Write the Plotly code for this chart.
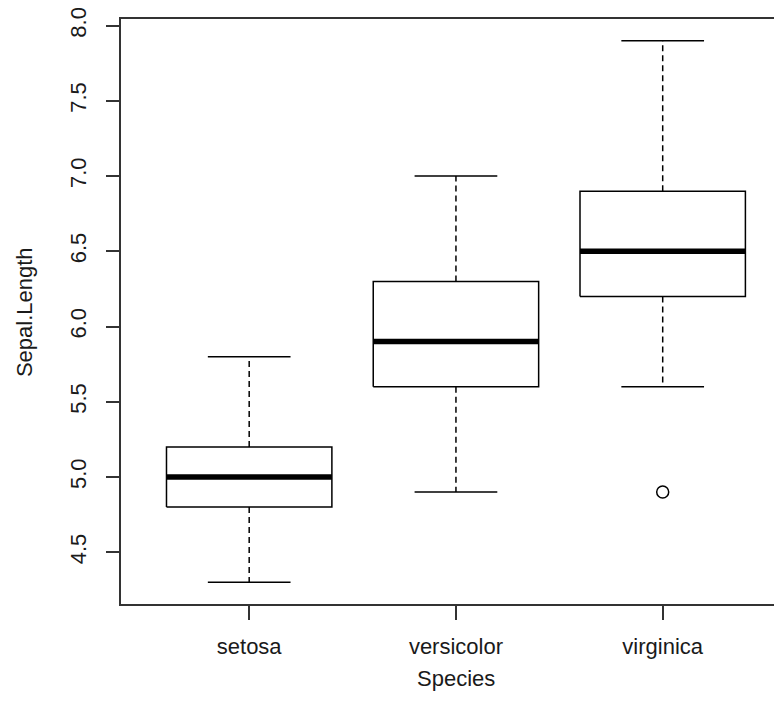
import plotly.graph_objects as go

# ---- data (iris Sepal.Length by Species, boxplot statistics) ----
species = ["setosa", "versicolor", "virginica"]
lower_whisker = [4.3, 4.9, 5.6]
q1 = [4.8, 5.6, 6.2]
median = [5.0, 5.9, 6.5]
q3 = [5.2, 6.3, 6.9]
upper_whisker = [5.8, 7.0, 7.9]
outlier_species = ["virginica"]
outlier_values = [4.9]
y_ticks = [4.5, 5.0, 5.5, 6.0, 6.5, 7.0, 7.5, 8.0]

BOXWEX = 0.8
CAP = 0.4
FONT = "Liberation Sans, Arial, sans-serif"

pos = {s: i + 1 for i, s in enumerate(species)}

wx, wy = [], []     # dashed whiskers
cx, cy = [], []     # caps
bx, by = [], []     # boxes
mx, my = [], []     # medians
for s, lo, a, m, b, hi in zip(species, lower_whisker, q1, median, q3, upper_whisker):
    p = pos[s]
    wx += [p, p, None, p, p, None]
    wy += [b, hi, None, a, lo, None]
    cx += [p - CAP / 2, p + CAP / 2, None, p - CAP / 2, p + CAP / 2, None]
    cy += [hi, hi, None, lo, lo, None]
    bx += [p - BOXWEX / 2, p + BOXWEX / 2, p + BOXWEX / 2, p - BOXWEX / 2, p - BOXWEX / 2, None]
    by += [a, a, b, b, a, None]
    mx += [p - BOXWEX / 2, p + BOXWEX / 2, None]
    my += [m, m, None]

fig = go.Figure()
fig.add_trace(go.Scatter(x=wx, y=wy, mode="lines", line=dict(color="black", width=1.5, dash="6px,4px"),
                         hoverinfo="skip"))
fig.add_trace(go.Scatter(x=cx, y=cy, mode="lines", line=dict(color="black", width=1.5), hoverinfo="skip"))
fig.add_trace(go.Scatter(x=bx, y=by, mode="lines", line=dict(color="black", width=1.5), hoverinfo="skip"))
fig.add_trace(go.Scatter(x=mx, y=my, mode="lines", line=dict(color="black", width=5.5), hoverinfo="skip"))
fig.add_trace(go.Scatter(x=[pos[s] for s in outlier_species], y=outlier_values, mode="markers",
                         marker=dict(symbol="circle-open", size=12, color="black", line=dict(width=1.5))))

fig.update_layout(
    width=774, height=707,
    margin=dict(l=113, r=0, t=11, b=111),
    paper_bgcolor="white", plot_bgcolor="white",
    showlegend=False,
    font=dict(family=FONT, size=22, color="#1a1a1a"),
    xaxis=dict(range=[0.38, 3.577], tickvals=[pos[s] for s in species], ticktext=species,
               showgrid=False, zeroline=False, showline=True, mirror=True, linecolor="#333", linewidth=1.5,
               ticks="outside", ticklen=14, tickwidth=1.5, tickcolor="#333", automargin=False,
               tickfont=dict(size=22), ticklabelstandoff=8, ticklabeloverflow="allow"),
    yaxis=dict(range=[4.156, 8.044], tickvals=y_ticks, ticktext=[f"{v:.1f}" for v in y_ticks],
               showgrid=False, zeroline=False, showline=True, mirror=False, linecolor="#333", linewidth=1.5,
               ticks="outside", ticklen=13, tickwidth=1.5, tickcolor="#333", automargin=False,
               tickangle=-90, tickfont=dict(size=22), ticklabelstandoff=11, ticklabeloverflow="allow"),
    annotations=[
        dict(text="Species", xref="paper", yref="paper", x=0.507, y=-0.1265, showarrow=False,
             xanchor="center", yanchor="middle", font=dict(size=22)),
        dict(text="Sepal.Length", xref="paper", yref="paper", x=-0.1467, y=0.499, showarrow=False,
             xanchor="center", yanchor="middle", textangle=-90, font=dict(size=22)),
    ],
)

fig.write_html("out.html")
